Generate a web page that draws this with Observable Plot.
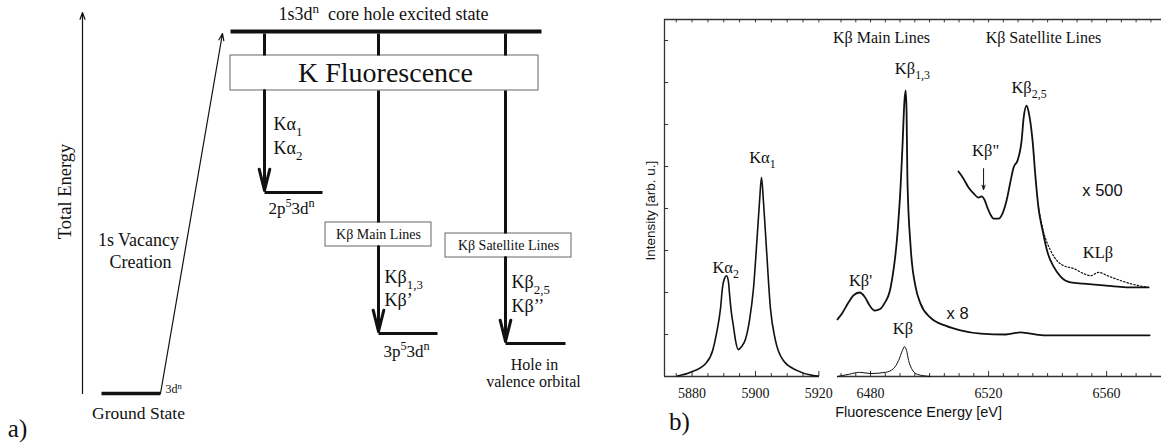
<!DOCTYPE html>
<html><head><meta charset="utf-8">
<script src="https://cdn.jsdelivr.net/npm/d3@7"></script>
<script src="https://cdn.jsdelivr.net/npm/@observablehq/plot@0.6"></script>
<style>
html,body{margin:0;padding:0;background:#fff;}
#fig{position:relative;width:1161px;height:443px;overflow:hidden;}
#left{position:absolute;left:0;top:0;}
#right{position:absolute;left:600px;top:0;}
</style></head>
<body><div id="fig"><div id="left"></div><div id="right"></div></div>
<script>
// ================= Panel a) : energy level diagram (diagram units) =================
const levels = [
  {name: "ground",  x1: 101, x2: 160, y: 393, w: 3.5},
  {name: "core",    x1: 230, x2: 541, y: 31,  w: 4},
  {name: "2p",      x1: 264, x2: 322, y: 192, w: 3},
  {name: "3p",      x1: 378, x2: 437, y: 333, w: 3},
  {name: "valence", x1: 505, x2: 565, y: 343, w: 3}
];
const connectors = [
  {x: 264, y1: 33, y2: 55}, {x: 378, y1: 33, y2: 55}, {x: 505, y1: 33, y2: 55},
  {x: 378, y1: 90, y2: 222}, {x: 505, y1: 90, y2: 233}
];
const decayArrows = [
  {x: 264, y1: 90, y2: 190}, {x: 378, y1: 246, y2: 331}, {x: 505, y1: 257, y2: 341}
];
const thinArrows = [
  {x1: 82, y1: 393, x2: 82, y2: 12},
  {x1: 160, y1: 393, x2: 222, y2: 33}
];
const boxes = [
  {x1: 230, x2: 538, y1: 55, y2: 90},
  {x1: 325, x2: 431, y1: 222, y2: 246},
  {x1: 445, x2: 571, y1: 233, y2: 257}
];
const boxLabels = [
  {text: "K Fluorescence", x: 385, y: 73, size: 28},
  {text: "Kβ Main Lines", x: 378, y: 234, size: 14},
  {text: "Kβ Satellite Lines", x: 508, y: 245, size: 14}
];
const centeredLabels = [
  {text: "1s3d^{n}  core hole excited state", x: 383, y: 14, size: 18},
  {text: "2p^{5}3d^{n}", x: 291, y: 208, size: 17},
  {text: "3p^{5}3d^{n}", x: 406, y: 351, size: 17},
  {text: "Hole in", x: 534, y: 364, size: 16},
  {text: "valence orbital", x: 533, y: 381, size: 16},
  {text: "Ground State", x: 138, y: 413, size: 17.5},
  {text: "1s Vacancy", x: 138, y: 240, size: 18},
  {text: "Creation", x: 140, y: 262, size: 18}
];
const leftLabels = [
  {text: "3d^{n}", x: 165, y: 389, size: 12},
  {text: "Kα_{1}", x: 273, y: 124, size: 18},
  {text: "Kα_{2}", x: 273, y: 148, size: 18},
  {text: "Kβ_{1,3}", x: 384, y: 277, size: 18},
  {text: "Kβ’", x: 384, y: 300, size: 18},
  {text: "Kβ_{2,5}", x: 511, y: 282, size: 18},
  {text: "Kβ’’", x: 511, y: 306, size: 18}
];
const axisLabelA = [{text: "Total Energy", x: 65, y: 191}];
const panelA = [{text: "a)", x: 17, y: 428}];

// ================= Panel b) : spectrum =================
const kaEnergy = [5875.4,5879.5,5884.3,5886.5,5887.7,5889.0,5889.6,5890.2,5890.9,5891.5,5891.8,5892.4,5893.1,5893.7,5894.6,5895.6,5896.9,5898.1,5899.4,5900.6,5901.3,5901.9,5902.5,5903.5,5904.7,5906.3,5908.8,5913.2,5918.3,5919.8];
const kaIntensity = [0.01,0.10,0.31,0.62,1.02,1.64,2.12,2.33,2.40,2.24,1.98,1.52,1.17,0.86,0.64,0.71,0.90,1.33,2.12,3.40,4.19,4.74,4.19,3.00,1.64,0.86,0.38,0.14,0.02,0.01];

const kb8Energy = [6468.8,6470.5,6472.5,6474.2,6476.3,6478.0,6479.7,6481.4,6483.1,6484.7,6486.8,6489.2,6490.2,6490.8,6491.5,6491.9,6492.2,6492.5,6493.6,6495.3,6496.9,6500.3,6505.4,6510.5,6517.3,6525.8,6530.8,6534.2,6539.3,6555.0,6574.6];
const kb8Intensity = [1.36,1.52,1.76,1.93,2.00,1.90,1.69,1.57,1.60,1.74,2.12,3.48,4.55,5.45,6.57,6.81,6.33,4.67,3.07,2.12,1.74,1.40,1.21,1.10,1.02,1.00,1.05,1.02,0.98,0.98,0.98];

const kb1Energy = [6468.8,6472.5,6476.3,6480.0,6485.1,6487.8,6489.5,6490.8,6491.5,6492.2,6492.9,6493.9,6495.9,6500.3];
const kb1Intensity = [0,0.05,0.10,0.07,0.10,0.19,0.38,0.62,0.71,0.62,0.38,0.19,0.05,0];

const satEnergy = [6509.8,6511.5,6513.2,6514.9,6516.6,6517.6,6518.6,6519.6,6520.6,6521.7,6523.4,6524.7,6526.1,6527.5,6528.5,6529.8,6531.2,6531.9,6532.9,6533.6,6534.9,6535.9,6536.9,6538.3,6540.0,6542.0,6544.4,6547.8,6552.2,6559.0,6563.7,6568.1,6574.2];
const satIntensity = [4.88,4.71,4.50,4.36,4.26,4.29,4.21,4.02,3.86,3.76,3.76,3.88,4.19,4.67,4.98,5.14,5.62,6.17,6.45,6.29,5.62,4.74,4.02,3.48,2.95,2.62,2.38,2.24,2.21,2.17,2.14,2.12,2.12];

const klEnergy = [6536.9,6538.6,6541.0,6543.4,6545.4,6548.8,6552.2,6554.6,6557.3,6560.3,6563.7,6568.1,6574.2];
const klIntensity = [4.02,3.45,3.00,2.74,2.64,2.57,2.45,2.40,2.48,2.40,2.31,2.21,2.12];

const xBreaks = [5871.3, 5920.2, 6468.8, 6578.6];   // axis segments (broken axis)
const xTickLabels = [5880, 5900, 5920, 6480, 6520, 6560];
const xMinorTicks = [5875,5880,5885,5890,5895,5900,5905,5910,5915,5920,
  6470,6475,6480,6485,6490,6495,6500,6505,6510,6515,6520,6525,6530,6535,6540,6545,6550,6555,6560,6565,6570,6575];
const yTicks = [1, 2, 3, 4, 5, 6, 7, 8];
const yTop = 8.5;

const peakLabels = [
  {text: "Kα_{2}", e: 5890.6, i: 2.60},
  {text: "Kα_{1}", e: 5902.2, i: 5.21},
  {text: "Kβ'", e: 6476.6, i: 2.29},
  {text: "Kβ_{1,3}", e: 6494.2, i: 7.33},
  {text: "Kβ", e: 6491.0, i: 1.14},
  {text: "Kβ\"", e: 6519.0, i: 5.38},
  {text: "Kβ_{2,5}", e: 6533.7, i: 6.88},
  {text: "KLβ", e: 6557.1, i: 2.95}
];
const groupLabels = [
  {text: "Kβ Main Lines", e: 6483.7, i: 8.07},
  {text: "Kβ Satellite Lines", e: 6538.6, i: 8.07}
];
const scaleLabels = [
  {text: "x 8", e: 6509.5, i: 1.50},
  {text: "x 500", e: 6558.6, i: 4.43}
];
const pointerArrow = [{e: 6518.3, i1: 4.95, i2: 4.45}];

const zipSeries = (es, is) => es.map((e, k) => ({e, i: is[k]}));
const ka = zipSeries(kaEnergy, kaIntensity);
const kb8 = zipSeries(kb8Energy, kb8Intensity);
const kb1 = zipSeries(kb1Energy, kb1Intensity);
const sat = zipSeries(satEnergy, satIntensity);
const kl = zipSeries(klEnergy, klIntensity);

const SERIF = "Liberation Serif, Times New Roman, serif";
const SANS = "Liberation Sans, Arial, sans-serif";
const INK = "#111";

// ---------- panel a ----------
const plotA = Plot.plot({
  width: 600, height: 443, margin: 0,
  x: {domain: [0, 600], range: [0, 600], axis: null},
  y: {domain: [0, 443], range: [0, 443], axis: null},
  marks: [
    Plot.rect(boxes, {x1: "x1", x2: "x2", y1: "y1", y2: "y2", fill: "white", stroke: "#666", strokeWidth: 1}),
    Plot.link(levels, {x1: "x1", x2: "x2", y1: "y", y2: "y", stroke: INK, strokeWidth: "w"}),
    Plot.link(connectors, {x1: "x", x2: "x", y1: "y1", y2: "y2", stroke: INK, strokeWidth: 3}),
    Plot.arrow(decayArrows, {x1: "x", x2: "x", y1: "y1", y2: "y2", stroke: INK, strokeWidth: 3, headLength: 11, headAngle: 28}),
    Plot.arrow(thinArrows, {x1: "x1", x2: "x2", y1: "y1", y2: "y2", stroke: INK, strokeWidth: 1.2, headLength: 9, headAngle: 40}),
    Plot.text(boxLabels, {x: "x", y: "y", text: "text", fontSize: "size", fontFamily: SERIF, fill: INK}),
    Plot.text(centeredLabels, {x: "x", y: "y", text: "text", fontSize: "size", fontFamily: SERIF, fill: INK}),
    Plot.text(leftLabels, {x: "x", y: "y", text: "text", fontSize: "size", fontFamily: SERIF, fill: INK, textAnchor: "start"}),
    Plot.text(axisLabelA, {x: "x", y: "y", text: "text", fontSize: 18.5, fontFamily: SERIF, fill: INK, rotate: -90}),
    Plot.text(panelA, {x: "x", y: "y", text: "text", fontSize: 25, fontFamily: SERIF, fill: INK})
  ]
});

// ---------- panel b ----------
const plotB = Plot.plot({
  width: 561, height: 443,
  marginLeft: 64, marginRight: 0, marginTop: 19, marginBottom: 67,
  x: {type: "linear", domain: xBreaks, range: [64, 219, 237, 561], axis: null},
  y: {domain: [0, yTop], range: [376, 19], axis: null},
  marks: [
    // frame
    Plot.ruleX([xBreaks[0]], {y1: 0, y2: yTop, stroke: "#333", strokeWidth: 1.3}),
    Plot.ruleY([yTop], {x1: xBreaks[0], x2: xBreaks[3], stroke: "#333", strokeWidth: 1.3}),
    Plot.ruleY([{a: xBreaks[0], b: xBreaks[1]}, {a: xBreaks[2], b: xBreaks[3]}], {y: () => 0, x1: "a", x2: "b", stroke: "#333", strokeWidth: 1.3}),
    Plot.ruleY(yTicks, {x1: xBreaks[0], x2: xBreaks[0] + 1.3, stroke: "#333"}),
    Plot.ruleX(xMinorTicks, {y1: yTop, y2: yTop - 0.08, stroke: "#333"}),
    Plot.ruleX(xMinorTicks, {y1: 0, y2: d => (xTickLabels.includes(d) ? 0.12 : 0.07), stroke: "#333"}),
    // spectra
    Plot.line(ka, {x: "e", y: "i", stroke: INK, strokeWidth: 1.6, curve: "monotone-x"}),
    Plot.line(kb1, {x: "e", y: "i", stroke: INK, strokeWidth: 1, curve: "monotone-x"}),
    Plot.line(kb8, {x: "e", y: "i", stroke: INK, strokeWidth: 1.8, curve: "monotone-x"}),
    Plot.line(kl, {x: "e", y: "i", stroke: INK, strokeWidth: 1.2, strokeDasharray: "1.5,2", curve: "monotone-x"}),
    Plot.line(sat, {x: "e", y: "i", stroke: INK, strokeWidth: 1.8, curve: "monotone-x"}),
    Plot.arrow(pointerArrow, {x1: "e", x2: "e", y1: "i1", y2: "i2", stroke: INK, strokeWidth: 1, headLength: 7, headAngle: 40}),
    // texts
    Plot.text(xTickLabels, {x: d => d, y: () => 0, dy: 17, text: d => String(d), fontSize: 14, fontFamily: SERIF, fill: INK}),
    Plot.text(["Fluorescence Energy [eV]"], {x: () => 6496.3, frameAnchor: "bottom", dy: 40, text: d => d, fontSize: 14.5, fontFamily: SANS, fill: INK}),
    Plot.text(["Intensity [arb. u.]"], {y: () => 3.95, frameAnchor: "left", textAnchor: "middle", dx: -14, rotate: -90, text: d => d, fontSize: 13.5, fontFamily: SANS, fill: INK}),
    Plot.text(peakLabels, {x: "e", y: "i", text: "text", fontSize: 16.5, fontFamily: SERIF, fill: INK}),
    Plot.text(groupLabels, {x: "e", y: "i", text: "text", fontSize: 16, fontFamily: SERIF, fill: INK}),
    Plot.text(scaleLabels, {x: "e", y: "i", text: "text", fontSize: 16.5, fontFamily: SANS, fill: INK}),
    Plot.text(["b)"], {frameAnchor: "bottom-left", textAnchor: "middle", dx: 15, dy: 53, text: d => d, fontSize: 25, fontFamily: SERIF, fill: INK})
  ]
});

document.getElementById("left").appendChild(plotA);
document.getElementById("right").appendChild(plotB);

// turn _{..} and ^{..} markup inside text labels into real sub/superscript tspans
function richText(svg) {
  svg.querySelectorAll("text").forEach(el => {
    const s = el.textContent;
    if (!/[_^]\{/.test(s) || el.querySelector("tspan")) return;
    const fs = parseFloat(getComputedStyle(el).fontSize) || 14;
    el.textContent = "";
    const parts = s.split(/([_^]\{[^}]*\})/).filter(p => p.length);
    let offset = 0;
    for (const p of parts) {
      const t = document.createElementNS("http://www.w3.org/2000/svg", "tspan");
      let target = 0, txt = p, small = false;
      if (p.startsWith("_{")) { target = 0.32 * fs; txt = p.slice(2, -1); small = true; }
      else if (p.startsWith("^{")) { target = -0.38 * fs; txt = p.slice(2, -1); small = true; }
      const d = target - offset;
      if (d) t.setAttribute("dy", d);
      if (small) t.setAttribute("font-size", 0.72 * fs);
      t.textContent = txt;
      el.appendChild(t);
      offset = target;
    }
  });
}
richText(plotA);
richText(plotB);
</script>
</body></html>
